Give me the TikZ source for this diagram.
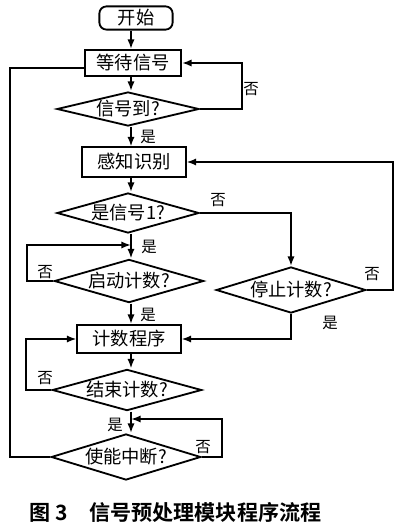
\documentclass[tikz,border=0pt]{standalone}
\usepackage{fontspec}
\setmainfont{Noto Sans CJK SC}
\newfontfamily\capfont{Noto Sans CJK SC Bold}
\usetikzlibrary{arrows.meta,shapes.geometric,calc}
\newcommand{\flowfont}{\fontsize{13pt}{15pt}\selectfont}
\newcommand{\tagfont}{\fontsize{11pt}{13pt}\selectfont}
\tikzset{
  flow/box/.style={
    draw=black,
    line width=1.3pt,
    fill=white,
    align=center,
    inner sep=1pt,
    font=\flowfont
  },
  flow/start/.style={flow/box, rounded corners=5pt},
  flow/dec/.style={
    diamond,
    aspect=4,
    draw=black,
    line width=1.3pt,
    fill=white,
    inner sep=0pt,
    font=\flowfont
  },
  flow/arrow/.style={-{Latex[length=2.4mm,width=1.8mm]}, line width=1.3pt},
  flow/line/.style={line width=1.3pt},
  flow/tag/.style={font=\tagfont, inner sep=0pt},
  flow/caption/.style={font=\capfont\fontsize{15pt}{17pt}\selectfont}
}
\begin{document}
\begin{tikzpicture}[x=0.025cm,y=-0.025cm]
  \useasboundingbox (0,0) rectangle (400,532);
  % main column
  \node[flow/start,minimum width=1.83cm,minimum height=0.58cm] (begin) at (136,18) {开始};
  \node[flow/box,minimum width=2.4cm,minimum height=0.65cm] (wait) at (133,63) {等待信号};
  \node[flow/dec,minimum width=3.55cm,minimum height=0.85cm] (ok) at (128,109) {信号到?};
  \node[flow/box,minimum width=2.58cm,minimum height=0.73cm] (sense) at (134,162) {感知识别};
  \node[flow/dec,minimum width=3.55cm,minimum height=1cm] (sig1) at (128,213) {是信号1?};
  \node[flow/dec,minimum width=3.58cm,minimum height=1.08cm] (startcnt) at (129,281) {启动计数?};
  \node[flow/dec,minimum width=3.6cm,minimum height=1.15cm] (stopcnt) at (291,290) {停止计数?};
  \node[flow/box,minimum width=2.58cm,minimum height=0.7cm] (count) at (129,339) {计数程序};
  \node[flow/dec,minimum width=3.55cm,minimum height=1.03cm] (endcnt) at (127,390) {结束计数?};
  \node[flow/dec,minimum width=3.5cm,minimum height=1.15cm] (enable) at (126,457) {使能中断?};
  \coordinate (j1) at (131,245);
  \coordinate (j2) at (131,419);

  \foreach \a/\b in {begin/wait,wait/ok,ok/sense,sense/sig1,sig1/startcnt,startcnt/count,count/endcnt}{\draw[flow/arrow] (\a.south-|131,0) -- (\b.north-|131,0);}
  \draw[flow/arrow] (endcnt.south-|131,0) -- (enable.north-|131,0);

  % loops
  \draw[flow/arrow] (ok.east) -- ++(42,0) |- (wait.east);
  \draw[flow/arrow] (sig1.east) -| (stopcnt.north);
  \draw[flow/arrow] (stopcnt.east) -- ++(26,0) |- (sense.east);
  \draw[flow/arrow] (stopcnt.south) |- (count.east);
  \draw[flow/arrow] (startcnt.west) -- ++(-26,0) |- (j1);
  \draw[flow/arrow] (endcnt.west) -- ++(-25,0) |- (count.west);
  \draw[flow/arrow] (enable.east) -- ++(20,0) |- (j2);
  \draw[flow/line] (enable.west) -- ++(-40,0) |- ($(wait.west)+(0,5)$);

  \node[flow/tag] at (251,89) {否};
  \node[flow/tag] at (148,137) {是};
  \node[flow/tag] at (218,200) {否};
  \node[flow/tag] at (149,247) {是};
  \node[flow/tag] at (45,272) {否};
  \node[flow/tag] at (148,315) {是};
  \node[flow/tag] at (372,274) {否};
  \node[flow/tag] at (330,323) {是};
  \node[flow/tag] at (45,378) {否};
  \node[flow/tag] at (115,425) {是};
  \node[flow/tag] at (203,447) {否};

  \node[flow/caption,anchor=west] (title) at (25,512) {图 3\quad 信号预处理模块程序流程};
\end{tikzpicture}
\end{document}
